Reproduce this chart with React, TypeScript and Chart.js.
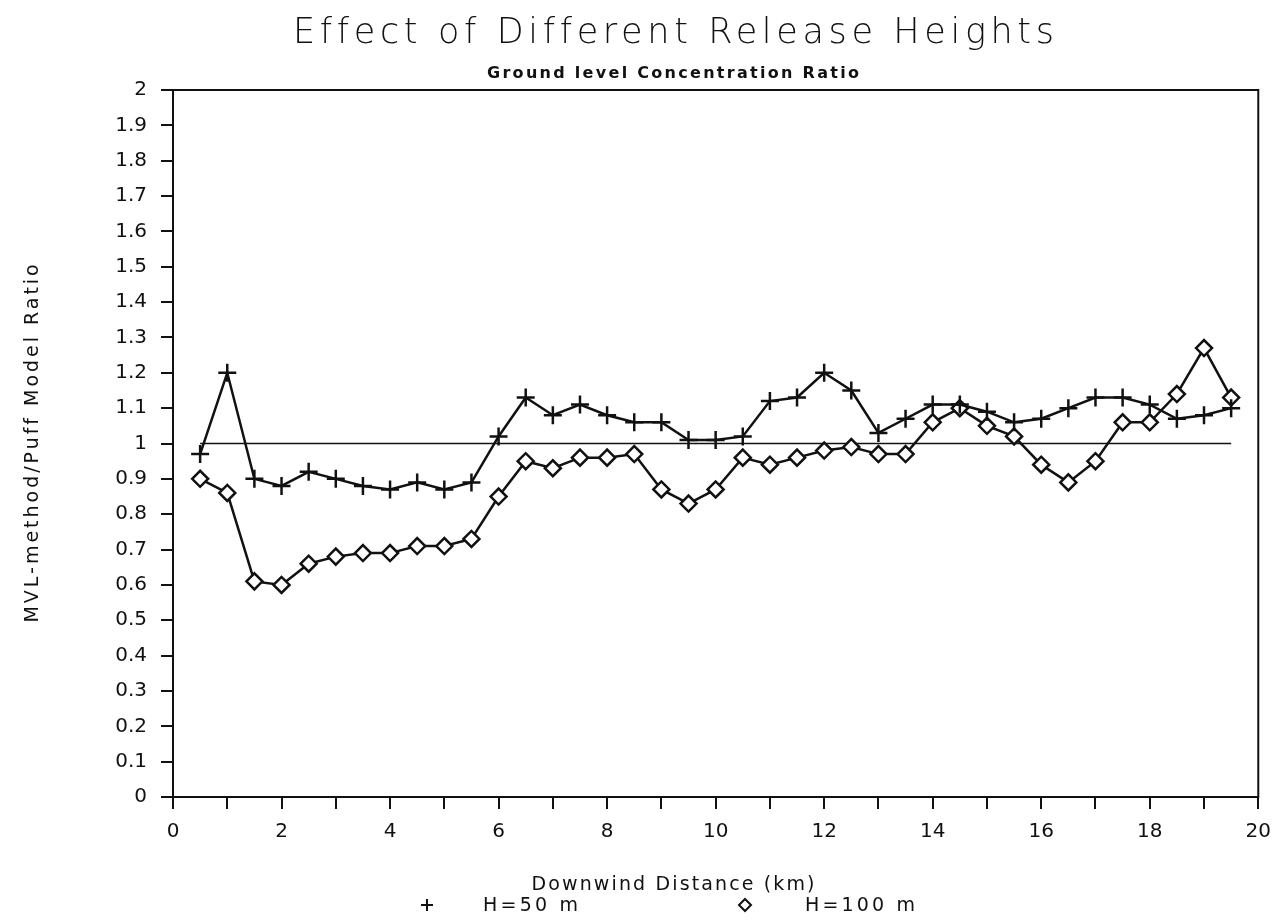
import React, { useEffect, useRef } from 'react';
import { Chart, registerables } from 'chart.js';

Chart.register(...registerables);

// ---- data ----
const distances = [
  0.5, 1, 1.5, 2, 2.5, 3, 3.5, 4, 4.5, 5, 5.5, 6, 6.5, 7, 7.5, 8, 8.5, 9, 9.5, 10,
  10.5, 11, 11.5, 12, 12.5, 13, 13.5, 14, 14.5, 15, 15.5, 16, 16.5, 17, 17.5, 18, 18.5, 19, 19.5,
];
const h50 = [
  0.97, 1.2, 0.9, 0.88, 0.92, 0.9, 0.88, 0.87, 0.89, 0.87, 0.89, 1.02, 1.13, 1.08, 1.11, 1.08, 1.06, 1.06, 1.01, 1.01,
  1.02, 1.12, 1.13, 1.2, 1.15, 1.03, 1.07, 1.11, 1.11, 1.09, 1.06, 1.07, 1.1, 1.13, 1.13, 1.11, 1.07, 1.08, 1.1,
];
const h100 = [
  0.9, 0.86, 0.61, 0.6, 0.66, 0.68, 0.69, 0.69, 0.71, 0.71, 0.73, 0.85, 0.95, 0.93, 0.96, 0.96, 0.97, 0.87, 0.83, 0.87,
  0.96, 0.94, 0.96, 0.98, 0.99, 0.97, 0.97, 1.06, 1.1, 1.05, 1.02, 0.94, 0.89, 0.95, 1.06, 1.06, 1.14, 1.27, 1.13,
];
const refX = [0.5, 19.5];
const refY = [1, 1];
const seriesLabels = ['H=50 m', 'H=100 m'];
const xTickLabels = ['0', '2', '4', '6', '8', '10', '12', '14', '16', '18', '20'];
const titleText = 'Effect of Different Release Heights';
const subtitleText = 'Ground level Concentration Ratio';
const xTitleText = 'Downwind Distance (km)';
const yTitleText = 'MVL-method/Puff Model Ratio';

const INK = '#111';

function drawSpaced(
  ctx: CanvasRenderingContext2D,
  text: string,
  font: string,
  x: number,
  y: number,
  target: number,
  align: 'center' | 'left',
) {
  ctx.save();
  ctx.font = font;
  (ctx as any).letterSpacing = '0px';
  const w = ctx.measureText(text).width;
  const s = text.length > 1 ? (target - w) / (text.length - 1) : 0;
  (ctx as any).letterSpacing = s.toFixed(2) + 'px';
  ctx.textAlign = 'left';
  ctx.fillStyle = INK;
  const startX = align === 'center' ? x - target / 2 : x;
  ctx.fillText(text, startX, y);
  ctx.restore();
}

const decorPlugin = {
  id: 'decor',
  beforeDatasetsDraw(chart: any) {
    const { ctx, chartArea } = chart;
    ctx.save();
    ctx.strokeStyle = INK;
    ctx.lineWidth = 2;
    ctx.strokeRect(chartArea.left, chartArea.top, chartArea.right - chartArea.left, chartArea.bottom - chartArea.top);
    ctx.restore();
  },
  afterDraw(chart: any) {
    const { ctx, chartArea } = chart;
    const cx = 673;
    ctx.textBaseline = 'alphabetic';
    drawSpaced(ctx, titleText, '200 35px "DejaVu Sans"', cx, 43, 760, 'center');
    drawSpaced(ctx, subtitleText, 'bold 16px "DejaVu Sans"', cx, 78, 372, 'center');
    drawSpaced(ctx, xTitleText, '19px "DejaVu Sans"', cx, chartArea.bottom + 93, 283, 'center');

    // y title
    ctx.save();
    ctx.translate(33, (chartArea.top + chartArea.bottom) / 2);
    ctx.rotate(-Math.PI / 2);
    ctx.textBaseline = 'middle';
    drawSpaced(ctx, yTitleText, '19px "DejaVu Sans"', 0, 0, 358, 'center');
    ctx.restore();

    // legend
    const ly = chartArea.bottom + 108;
    ctx.save();
    ctx.strokeStyle = INK;
    ctx.lineWidth = 2;
    ctx.beginPath();
    ctx.moveTo(421, ly);
    ctx.lineTo(433, ly);
    ctx.moveTo(427, ly - 6);
    ctx.lineTo(427, ly + 6);
    ctx.stroke();
    ctx.beginPath();
    ctx.moveTo(745, ly - 6);
    ctx.lineTo(751, ly);
    ctx.lineTo(745, ly + 6);
    ctx.lineTo(739, ly);
    ctx.closePath();
    ctx.stroke();
    ctx.restore();
    ctx.textBaseline = 'middle';
    drawSpaced(ctx, seriesLabels[0], '19px "DejaVu Sans"', 483, ly + 1, 95, 'left');
    drawSpaced(ctx, seriesLabels[1], '19px "DejaVu Sans"', 805, ly + 1, 110, 'left');
  },
};

export default function App() {
  const ref = useRef<HTMLCanvasElement | null>(null);
  useEffect(() => {
    if (!ref.current) return;
    const chart = new Chart(ref.current, {
      type: 'line',
      data: {
        datasets: [
          {
            label: seriesLabels[0],
            data: distances.map((d, i) => ({ x: d, y: h50[i] })),
            borderColor: INK,
            borderWidth: 2.5,
            pointStyle: 'cross',
            pointRadius: 9,
            pointBorderWidth: 2.5,
            pointBorderColor: INK,
            pointBackgroundColor: INK,
            tension: 0,
          },
          {
            label: seriesLabels[1],
            data: distances.map((d, i) => ({ x: d, y: h100[i] })),
            borderColor: INK,
            borderWidth: 2.5,
            pointStyle: 'rectRot',
            pointRadius: 8,
            pointBorderWidth: 2.5,
            pointBorderColor: INK,
            pointBackgroundColor: '#fff',
            tension: 0,
          },
          {
            label: 'ref',
            data: refX.map((x, i) => ({ x, y: refY[i] })),
            borderColor: INK,
            borderWidth: 1.5,
            pointRadius: 0,
          },
        ],
      },
      options: {
        responsive: false,
        animation: false,
        layout: { padding: { top: 90, right: 20, bottom: 0, left: 0 } },
        plugins: {
          legend: { display: false },
          title: { display: false },
          tooltip: { enabled: false },
        },
        scales: {
          x: {
            type: 'linear',
            min: 0,
            max: 20,
            afterFit: (s: any) => {
              s.height = 123;
            },
            ticks: {
              stepSize: 1,
              autoSkip: false,
              maxRotation: 0,
              padding: 11,
              color: INK,
              font: { family: 'DejaVu Sans', size: 20 },
              callback: (v: any) => (xTickLabels.includes(String(v)) ? String(v) : ''),
            },
            grid: { drawOnChartArea: false, drawTicks: true, tickLength: 12, color: INK, lineWidth: 2 },
            border: { display: true, color: INK, width: 2 },
          },
          y: {
            type: 'linear',
            min: 0,
            max: 2,
            afterFit: (s: any) => {
              s.width = 173;
            },
            ticks: {
              stepSize: 0.1,
              autoSkip: false,
              padding: 14,
              color: INK,
              font: { family: 'DejaVu Sans', size: 20 },
              callback: (v: any) => String(Number(Number(v).toFixed(1))),
            },
            grid: { drawOnChartArea: false, drawTicks: true, tickLength: 12, color: INK, lineWidth: 2 },
            border: { display: true, color: INK, width: 2 },
          },
        },
      },
      plugins: [decorPlugin],
    });
    return () => chart.destroy();
  }, []);
  return (
    <div style={{ position: 'fixed', left: 0, top: 0, width: 1282, height: 920, background: '#fff' }}>
      <canvas ref={ref} width={1282} height={920} />
    </div>
  );
}
